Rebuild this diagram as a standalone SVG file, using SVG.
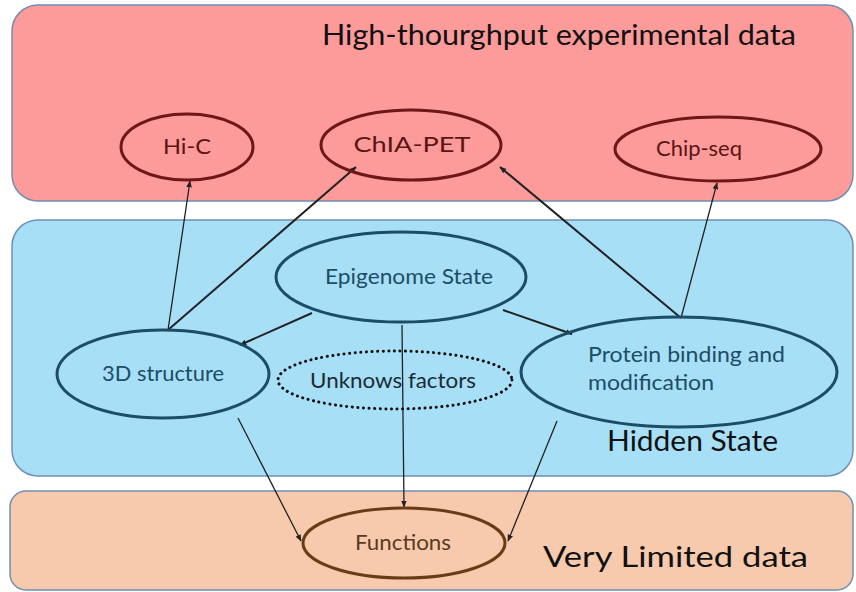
<svg xmlns="http://www.w3.org/2000/svg" width="856" height="592" viewBox="0 0 856 592">
<style>
.band{stroke:#6f90b2;stroke-width:1.5}
.red{fill:none;stroke:#6e1717;stroke-width:3}
.blue{fill:none;stroke:#1d4d66;stroke-width:3}
.brown{fill:none;stroke:#6a3c16;stroke-width:3}
.dot{fill:none;stroke:#111;stroke-width:3;stroke-dasharray:0.1 5.5;stroke-linecap:round}
.edge{stroke:#222;stroke-width:1.3;fill:none;marker-end:url(#ah)}
.edge2{stroke:#222;stroke-width:2;fill:none;marker-end:url(#ah)}
text{font-family:Lato,"Open Sans","Liberation Sans",sans-serif}
.t{font-size:21px;text-anchor:middle}
.big{font-size:28px;fill:#111}
</style>
<defs>
<marker id="ah" viewBox="0 0 10 10" refX="9" refY="5" markerWidth="7" markerHeight="7" orient="auto" markerUnits="userSpaceOnUse">
<path d="M0,1 L10,5 L0,9 z" fill="#222"/>
</marker>
</defs>
<g id="band-high">
<rect class="band" x="12" y="5" width="841" height="196" rx="26" fill="#fd9a9a"/>
<text class="big" x="322" y="45" textLength="474" lengthAdjust="spacingAndGlyphs">High-thourghput experimental data</text>
</g>
<g id="band-hidden">
<rect class="band" x="12" y="220" width="841" height="256" rx="26" fill="#a6dff6"/>
<text class="big" x="607" y="451" textLength="171" lengthAdjust="spacingAndGlyphs">Hidden State</text>
</g>
<g id="band-limited">
<rect class="band" x="10" y="491" width="843" height="99" rx="16" fill="#f7caad"/>
<text class="big" x="543" y="567" textLength="265" lengthAdjust="spacingAndGlyphs">Very Limited data</text>
</g>
<g id="connectors">
<line class="edge" x1="168" y1="330" x2="190" y2="181"/>
<line class="edge2" x1="168" y1="330" x2="356" y2="167"/>
<line class="edge2" x1="681" y1="318" x2="500" y2="167"/>
<line class="edge" x1="681" y1="318" x2="717" y2="183"/>
<line class="edge2" x1="312" y1="313" x2="240" y2="345"/>
<line class="edge2" x1="503" y1="310" x2="572" y2="334"/>
<line class="edge" x1="402" y1="325" x2="404" y2="507"/>
<line class="edge" x1="238" y1="418" x2="301" y2="541"/>
<line class="edge" x1="557" y1="421" x2="508" y2="541"/>
</g>
<g id="hic">
<ellipse class="red" cx="187" cy="147" rx="66" ry="33"/>
<text class="t" x="187" y="154" fill="#5a1515" textLength="48" lengthAdjust="spacingAndGlyphs">Hi-C</text>
</g>
<g id="chiapet">
<ellipse class="red" cx="411" cy="145" rx="90" ry="35"/>
<text class="t" x="412" y="152" fill="#5a1515" textLength="117" lengthAdjust="spacingAndGlyphs">ChIA-PET</text>
</g>
<g id="chipseq">
<ellipse class="red" cx="718" cy="149" rx="103" ry="32"/>
<text class="t" x="699" y="156" fill="#5a1515" textLength="86" lengthAdjust="spacingAndGlyphs">Chip-seq</text>
</g>
<g id="epigenome">
<ellipse class="blue" cx="401" cy="277" rx="125" ry="45"/>
<text class="t" x="409" y="284" fill="#1d4d66" textLength="168" lengthAdjust="spacingAndGlyphs">Epigenome State</text>
</g>
<g id="structure3d">
<ellipse class="blue" cx="163" cy="374" rx="106" ry="44"/>
<text class="t" x="163" y="381" fill="#1d4d66" textLength="122" lengthAdjust="spacingAndGlyphs">3D structure</text>
</g>
<g id="unknown">
<ellipse class="dot" cx="395" cy="380" rx="117" ry="29"/>
<text class="t" x="393" y="388" fill="#1a2b35" textLength="166" lengthAdjust="spacingAndGlyphs">Unknows factors</text>
</g>
<g id="protein">
<ellipse class="blue" cx="679" cy="372" rx="158" ry="55"/>
<text x="588" y="362" font-size="21" fill="#1d4d66" textLength="197" lengthAdjust="spacingAndGlyphs">Protein binding and</text>
<text x="588" y="390" font-size="21" fill="#1d4d66" textLength="126" lengthAdjust="spacingAndGlyphs">modification</text>
</g>
<g id="functions">
<ellipse class="brown" cx="404" cy="543" rx="101" ry="35"/>
<text class="t" x="403" y="550" fill="#5a3a1e" textLength="96" lengthAdjust="spacingAndGlyphs">Functions</text>
</g>
</svg>
